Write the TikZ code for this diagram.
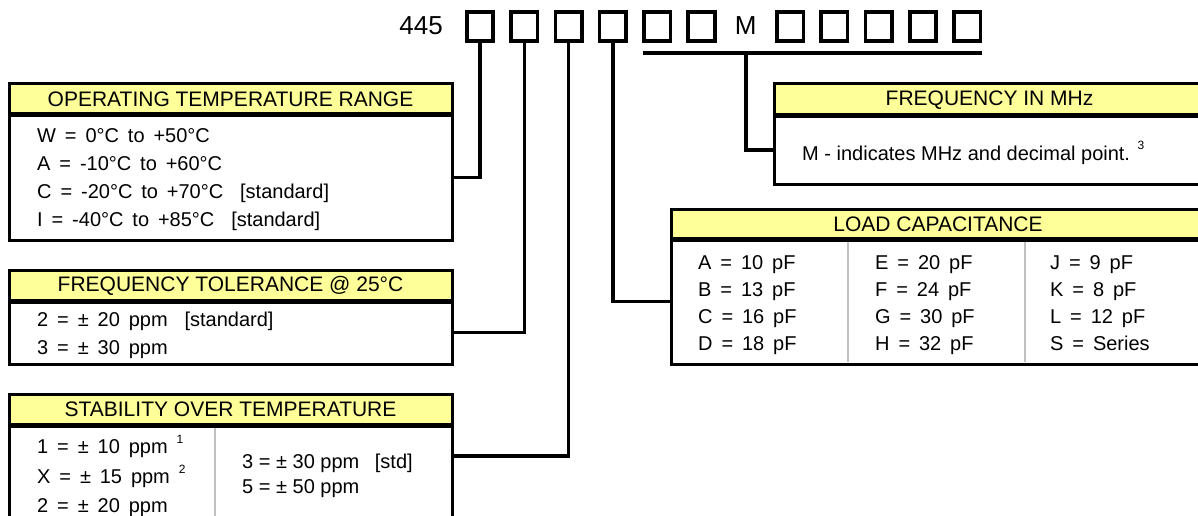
\documentclass[tikz,border=0pt]{standalone}
\usepackage{fontspec}
\setmainfont{Liberation Sans}
\newfontfamily\rowfont{Liberation Sans}[WordSpace=1.6]
\usetikzlibrary{positioning, calc}
\definecolor{hdryellow}{HTML}{FFFF99}
\definecolor{sepgray}{HTML}{C0C0C0}
\newcommand\fnmark[1]{{\fontsize{12}{12}\selectfont\raisebox{10pt}{#1}}}

\begin{document}
\begin{tikzpicture}[x=1pt, y=-1pt,
    digit/.style={draw, line width=3.6pt, minimum width=26.5pt, minimum height=29.5pt, inner sep=0pt, outer sep=0pt},
    bigtxt/.style={anchor=base, inner sep=0pt, font=\fontsize{26}{26}\selectfont},
    panelhead/.style={draw, line width=3pt, fill=hdryellow, anchor=north west, inner sep=0pt, outer sep=0pt, font=\fontsize{21}{21}\selectfont},
    panelbody/.style={draw, line width=3pt, anchor=north west, inner sep=0pt, outer sep=0pt},
    rowtxt/.style={anchor=base west, inner sep=0pt, font=\rowfont\fontsize{20}{20}\selectfont},
    stdtxt/.style={anchor=base west, inner sep=0pt, font=\fontsize{20}{20}\selectfont},
    wire/.style={line width=3.6pt},
    hdrrule/.style={line width=5pt},
    colsep/.style={line width=2.5pt, draw=sepgray}
  ]
  \useasboundingbox (0,0) rectangle (1198,516);
  \clip (0,0) rectangle (1198,516);

  % part number with its code boxes
  \node (pfx) [bigtxt, anchor=base east] at (443,35) {445};
  \foreach \i in {1,...,6}
    \node (d\i) [digit] at ({480+44.3*(\i-1)}, 26.5) {};
  \node (mlab) [bigtxt] at ({480+44.3*6}, 35) {M};
  \foreach \i in {8,...,12}
    \node (d\i) [digit] at ({480+44.3*(\i-1)}, 26.5) {};
  \coordinate (ul-w) at (643,53);
  \coordinate (ul-e) at (982,53);

  % operating temperature range
  \node (op-h) [panelhead, minimum width=443pt, minimum height=31pt] at (9,84) {OPERATING TEMPERATURE RANGE};
  \node (op-b) [panelbody, minimum width=443pt, minimum height=125pt] at (op-h.south west) {};
  \draw [hdrrule] (op-h.south west) -- (op-h.south east);
  \foreach \t [count=\i] in {{W = 0°C to +50°C}, {A = -10°C to +60°C},
      {C = -20°C to +70°C\hspace{0.4em} [standard]}, {I = -40°C to +85°C\hspace{0.4em} [standard]}}
    \node (op-r\i) [rowtxt] at (37, {142+28.3*(\i-1)}) {\t};

  % frequency tolerance
  \node (ft-h) [panelhead, minimum width=443pt, minimum height=31pt] at (9,270) {FREQUENCY TOLERANCE @ 25°C};
  \node (ft-b) [panelbody, minimum width=443pt, minimum height=63pt] at (ft-h.south west) {};
  \draw [hdrrule] (ft-h.south west) -- (ft-h.south east);
  \node (ft-r1) [rowtxt] at (37,326) {2 = ± 20 ppm\hspace{0.4em} [standard]};
  \node (ft-r2) [rowtxt] at (37,354.5) {3 = ± 30 ppm};

  % stability over temperature
  \node (st-h) [panelhead, minimum width=443pt, minimum height=31pt] at (9,394) {STABILITY OVER TEMPERATURE};
  \node (st-b) [panelbody, minimum width=443pt, minimum height=110pt] at (st-h.south west) {};
  \draw [hdrrule] (st-h.south west) -- (st-h.south east);
  \draw [colsep] (215,428) -- (215,520);
  \node (st-r1) [rowtxt] at (37,453) {1 = ± 10 ppm \fnmark{1}};
  \node (st-r2) [rowtxt] at (37,483) {X = ± 15 ppm \fnmark{2}};
  \node (st-r3) [rowtxt] at (37,512) {2 = ± 20 ppm};
  \node (st-r4) [stdtxt] at (242,468) {3 = ± 30 ppm\hspace{0.5em} [std]};
  \node (st-r5) [stdtxt] at (242,493) {5 = ± 50 ppm};

  % frequency in MHz
  \node (fm-h) [panelhead, minimum width=431pt, minimum height=32pt] at (774,84) {FREQUENCY IN MHz};
  \node (fm-b) [panelbody, minimum width=431pt, minimum height=68pt] at (fm-h.south west) {};
  \draw [hdrrule] (fm-h.south west) -- (fm-h.south east);
  \node (fm-r1) [stdtxt] at (802,160) {M - indicates MHz and decimal point. \fnmark{3}};

  % load capacitance
  \node (lc-h) [panelhead, minimum width=534pt, minimum height=30pt] at (671,209) {LOAD CAPACITANCE};
  \node (lc-b) [panelbody, minimum width=534pt, minimum height=125pt] at (lc-h.south west) {};
  \draw [hdrrule] (lc-h.south west) -- (lc-h.south east);
  \draw [colsep] (848,242) -- (848,362);
  \draw [colsep] (1025,242) -- (1025,362);
  \foreach \a/\b/\c [count=\i] in {{A = 10 pF}/{E = 20 pF}/{J = 9 pF}, {B = 13 pF}/{F = 24 pF}/{K = 8 pF},
      {C = 16 pF}/{G = 30 pF}/{L = 12 pF}, {D = 18 pF}/{H = 32 pF}/{S = Series}} {
    \node (lc-a\i) [rowtxt] at (698, {269+27.3*(\i-1)}) {\a};
    \node (lc-b\i) [rowtxt] at (875, {269+27.3*(\i-1)}) {\b};
    \node (lc-c\i) [rowtxt] at (1050, {269+27.3*(\i-1)}) {\c};
  }

  % connectors from the code boxes
  \draw [wire] (d1.south) |- (op-b.east);
  \draw [wire] (d2.south) |- (ft-b.east);
  \draw [wire] (d3.south) |- ($(st-b.north east)+(0,31)$);
  \draw [wire] (d4.south) |- (lc-b.west);
  \draw [wire] (ul-w) -- (ul-e);
  \draw [wire] (mlab |- ul-w) |- (fm-b.west);
\end{tikzpicture}
\end{document}
